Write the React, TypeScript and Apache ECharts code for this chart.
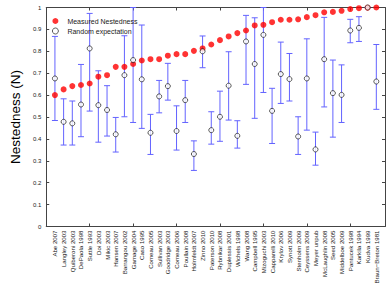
import React, { useEffect, useRef } from "react";
import * as echarts from "echarts";

const categories: string[] = [
  "Abe 2007", "Langley 2003", "Quiberoni 2003", "DePaola 1998", "Suttle 1993",
  "Doi 2003", "Mikic 2003", "Hansen 2007", "Barrangou 2002", "Gamage 2004",
  "Caso 1995", "Comeau 2005", "Sullivan 2003", "Goodridge 2003", "Comeau 2006",
  "Poullain 2008", "Holmfeldt 2007", "Zinno 2010", "Paterson 2010", "Rybnikar 2008",
  "Duplessis 2001", "Wichels 1998", "Wang 2008", "Campbell 1995", "Mizoguchi 2003",
  "Capparelli 2010", "Krylov 2006", "Synott 2009", "Stenholm 2009", "Ceyssens 2009",
  "Meyer unpub", "McLaughlin 2008", "Seed 2005", "Middelboe 2009", "Pantucek 1998",
  "Karkila 1994", "Kudva 1999", "Braun\u2212Breton 1981",
];

const measured: number[] = [
  0.600, 0.626, 0.641, 0.646, 0.653, 0.684, 0.691, 0.729, 0.729, 0.742,
  0.758, 0.764, 0.764, 0.780, 0.787, 0.787, 0.802, 0.813, 0.831, 0.851,
  0.868, 0.883, 0.895, 0.918, 0.921, 0.933, 0.944, 0.944, 0.946, 0.956,
  0.965, 0.978, 0.980, 0.985, 0.993, 0.997, 0.999, 1.000,
];

const randomMean: number[] = [
  0.676, 0.478, 0.471, 0.557, 0.813, 0.554, 0.532, 0.421, 0.691, 0.760,
  0.672, 0.428, 0.594, 0.641, 0.436, 0.577, 0.331, 0.800, 0.440, 0.501,
  0.643, 0.414, 0.845, 0.742, 0.875, 0.528, 0.696, 0.673, 0.411, 0.676,
  0.352, 0.764, 0.609, 0.601, 0.895, 0.907, 1.000, 0.662,
];

const randomLow: number[] = [
  0.484, 0.372, 0.372, 0.410, 0.527, 0.385, 0.413, 0.340, 0.501, 0.475,
  0.448, 0.329, 0.519, 0.577, 0.349, 0.475, 0.256, 0.725, 0.376, 0.389,
  0.486, 0.358, 0.649, 0.494, 0.612, 0.379, 0.562, 0.573, 0.329, 0.440,
  0.280, 0.546, 0.408, 0.475, 0.839, 0.845, 1.000, 0.535,
];

const randomHigh: number[] = [
  0.868, 0.583, 0.573, 0.740, 0.973, 0.711, 0.643, 0.498, 0.871, 1.000,
  0.920, 0.512, 0.667, 0.745, 0.551, 0.667, 0.391, 0.870, 0.524, 0.618,
  0.798, 0.483, 0.964, 0.953, 1.000, 0.631, 0.842, 0.790, 0.501, 0.857,
  0.431, 0.955, 0.760, 0.738, 0.946, 0.958, 1.000, 0.831,
];

const yTicks: number[] = [0, 0.1, 0.2, 0.3, 0.4, 0.5, 0.6, 0.7, 0.8, 0.9, 1];

const FONT = "Liberation Sans, Arial, Helvetica, sans-serif";
const AXIS_COLOR = "#444";
const BAR_COLOR = "#6363ff";

export default function App() {
  const ref = useRef<HTMLDivElement>(null);

  useEffect(() => {
    if (!ref.current) return;
    const chart = echarts.init(ref.current, undefined, { renderer: "svg" });
    const axisCats = ["", ...categories, ""];
    const tickInterval = (i: number) => i % 5 === 0;

    const errData = categories.map((_, i) => [i + 1, randomLow[i], randomHigh[i]]);
    const redData = categories.map((_, i) => [i + 1, measured[i]]);
    const openData = categories.map((_, i) => [i + 1, randomMean[i]]);

    chart.setOption({
      animation: false,
      textStyle: { fontFamily: FONT },
      grid: { left: 32, right: 5, top: 7.5, bottom: 65.5, containLabel: false },
      legend: {
        orient: "vertical",
        left: 47,
        top: 12,
        itemWidth: 6,
        itemHeight: 6,
        itemGap: 2,
        selectedMode: false,
        textStyle: { fontSize: 7, color: "#222", fontFamily: FONT, padding: [0, 0, 0, 4], lineHeight: 8 },
        data: [
          { name: "Measured Nestedness", icon: "circle", itemStyle: { color: "#ff0000", borderWidth: 0 } },
          { name: "Random expectation", icon: "circle", itemStyle: { color: "#ffffff", borderColor: "#000", borderWidth: 0.8 } },
        ],
      },
      xAxis: [
        {
          type: "category",
          data: axisCats,
          boundaryGap: false,
          position: "bottom",
          axisLine: { show: true, onZero: false, lineStyle: { color: AXIS_COLOR, width: 1 } },
          axisTick: { show: true, inside: true, length: 3, interval: tickInterval, lineStyle: { color: AXIS_COLOR } },
          axisLabel: { show: true, interval: 0, rotate: 90, fontSize: 6.1, color: "#222", margin: 4, fontFamily: FONT },
          splitLine: { show: false },
        },
        {
          type: "category",
          data: axisCats,
          boundaryGap: false,
          position: "top",
          axisLine: { show: true, onZero: false, lineStyle: { color: AXIS_COLOR, width: 1 } },
          axisTick: { show: true, inside: true, length: 3, interval: tickInterval, lineStyle: { color: AXIS_COLOR } },
          axisLabel: { show: false },
          splitLine: { show: false },
        },
      ],
      yAxis: [
        {
          type: "value",
          min: 0,
          max: 1,
          interval: 0.1,
          position: "left",
          name: "Nestedness (N)",
          nameLocation: "middle",
          nameGap: 17,
          nameTextStyle: { fontSize: 13.5, color: "#000", fontFamily: FONT },
          axisLine: { show: true, lineStyle: { color: AXIS_COLOR, width: 1 } },
          axisTick: { show: true, inside: true, length: 3, lineStyle: { color: AXIS_COLOR } },
          axisLabel: {
            fontSize: 6,
            color: "#222",
            margin: 5,
            fontFamily: FONT,
            formatter: (v: number) => {
              const t = yTicks.find((x) => Math.abs(x - v) < 1e-6);
              return String(t !== undefined ? t : v);
            },
          },
          splitLine: { show: false },
        },
        {
          type: "value",
          min: 0,
          max: 1,
          interval: 0.1,
          position: "right",
          axisLine: { show: true, lineStyle: { color: AXIS_COLOR, width: 1 } },
          axisTick: { show: true, inside: true, length: 3, lineStyle: { color: AXIS_COLOR } },
          axisLabel: { show: false },
          splitLine: { show: false },
        },
      ],
      series: [
        {
          type: "custom",
          name: "errorbars",
          xAxisIndex: 0,
          yAxisIndex: 0,
          z: 2,
          data: errData,
          renderItem: (params: any, api: any) => {
            const x = api.value(0);
            const lo = api.coord([x, api.value(1)]);
            const hi = api.coord([x, api.value(2)]);
            const hw = 3;
            const style = { stroke: BAR_COLOR, lineWidth: 1 };
            return {
              type: "group",
              children: [
                { type: "line", shape: { x1: lo[0], y1: lo[1], x2: hi[0], y2: hi[1] }, style },
                { type: "line", shape: { x1: hi[0] - hw, y1: hi[1], x2: hi[0] + hw, y2: hi[1] }, style },
                { type: "line", shape: { x1: lo[0] - hw, y1: lo[1], x2: lo[0] + hw, y2: lo[1] }, style },
              ],
            };
          },
        },
        {
          type: "scatter",
          name: "Measured Nestedness",
          xAxisIndex: 0,
          yAxisIndex: 0,
          z: 3,
          symbol: "circle",
          symbolSize: 6,
          itemStyle: { color: "#ff0000" },
          data: redData,
        },
        {
          type: "scatter",
          name: "Random expectation",
          xAxisIndex: 0,
          yAxisIndex: 0,
          z: 4,
          symbol: "circle",
          symbolSize: 5,
          itemStyle: { color: "#ffffff", borderColor: "#000", borderWidth: 0.8 },
          data: openData,
        },
      ],
    });

    return () => chart.dispose();
  }, []);

  return (
    <div
      ref={ref}
      style={{ position: "absolute", left: 0, top: 0, width: 390, height: 292, background: "#fff" }}
    />
  );
}
